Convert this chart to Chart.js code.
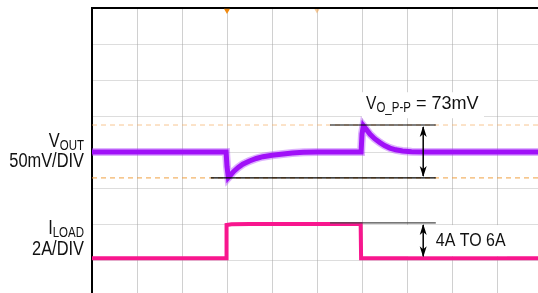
<!DOCTYPE html>
<html>
<head>
<meta charset="utf-8">
<script src="https://cdn.jsdelivr.net/npm/chart.js@4.4.1/dist/chart.umd.min.js"></script>
<style>
  html, body { margin: 0; padding: 0; background: #fff; overflow: hidden; }
  canvas { display: block; }
</style>
</head>
<body>
<canvas id="scope" width="546" height="300"></canvas>
<script>
'use strict';

// Scope screen: 10 time divisions x 8 vertical divisions
const timeDivs = [0, 10];
const levelDivs = [0, 8];

// VOUT trace (time in div, level in div)
const voutTime  = [0, 1.0, 2.0, 2.98, 3.0, 3.03, 3.08, 3.15, 3.25, 3.35, 3.5, 3.65, 3.8, 4.0, 4.2, 4.45, 4.7, 5.0, 5.5, 5.98, 6.0, 6.03, 6.1, 6.18, 6.28, 6.4, 6.5, 6.62, 6.75, 6.9, 7.1, 7.4, 8.0, 9.0, 10.0];
const voutLevel = [4.0, 4.0, 4.0, 4.0, 3.6, 3.29, 3.36, 3.46, 3.57, 3.66, 3.75, 3.82, 3.87, 3.91, 3.94, 3.97, 3.99, 4.0, 4.0, 4.0, 4.5, 4.73, 4.62, 4.49, 4.37, 4.26, 4.18, 4.11, 4.06, 4.03, 4.01, 4.0, 4.0, 4.0, 4.0];

// ILOAD trace
const loadTime  = [0, 2.98, 2.99, 3.1, 3.5, 4.5, 5.5, 5.97, 5.98, 6.5, 8.0, 10.0];
const loadLevel = [1.05, 1.05, 1.97, 1.99, 2.0, 2.0, 2.0, 2.0, 1.05, 1.05, 1.05, 1.05];

// cursors and measurement marks
const cursorLevels = [4.75, 3.28];
const peakMark   = { from: 5.29, to: 7.64, level: 4.75 };
const dipMark    = { from: 2.64, to: 7.64, level: 3.28 };
const stepMark   = { from: 5.29, to: 7.64, level: 2.03 };
const arrowTime  = 7.36;
const triggerTimes = [3.0, 5.0];

const purple = '#a010f8';
const pink = '#f8168e';

function pts(xs, ys) {
    return xs.map((x, i) => ({ x: x, y: ys[i] }));
}

function hline(m) {
    return [{ x: m.from, y: m.level }, { x: m.to, y: m.level }];
}

// condensed look: Liberation Sans squeezed horizontally
const labelFont = '"Liberation Sans", Arial, sans-serif';
const squeeze = 0.82;

function textWidth(ctx, text, size, sq) {
    ctx.font = size + 'px ' + labelFont;
    return ctx.measureText(text).width * (sq || squeeze);
}

function putText(ctx, text, x, y, size, sq) {
    ctx.save();
    ctx.font = size + 'px ' + labelFont;
    ctx.textAlign = 'left';
    ctx.translate(x, y);
    ctx.scale(sq || squeeze, 1);
    ctx.fillText(text, 0, 0);
    ctx.restore();
    return x + textWidth(ctx, text, size, sq);
}

function drawSubText(ctx, x, y, main, sub, size, align) {
    const small = Math.round(size * 0.72);
    const w = textWidth(ctx, main, size) + textWidth(ctx, sub, small);
    const start = align === 'right' ? x - w : x;
    const mid = putText(ctx, main, start, y, size);
    return putText(ctx, sub, mid, y + 3, small);
}

// white label boxes, texts and arrows (drawn after the grid, which sits over the traces)
const scopeMarks = {
    id: 'scopeMarks',
    afterDraw(chart) {
        const ctx = chart.ctx;
        const xs = chart.scales.x;
        const ys = chart.scales.y;
        ctx.save();
        ctx.fillStyle = '#fff';
        ctx.fillRect(xs.getPixelForValue(6.0), ys.getPixelForValue(5.66), 122, 26);
        ctx.fillRect(xs.getPixelForValue(7.0), ys.getPixelForValue(1.97), 100, 31);

        ctx.fillStyle = '#111';
        ctx.textBaseline = 'alphabetic';
        const end = drawSubText(ctx, xs.getPixelForValue(6.09), ys.getPixelForValue(5.2), 'V', 'O_P-P', 19, 'left');
        putText(ctx, ' = 73mV', end, ys.getPixelForValue(5.2), 19, 0.95);
        putText(ctx, '4A TO 6A', xs.getPixelForValue(7.64), ys.getPixelForValue(1.39), 19, 0.84);

        // channel labels left of the screen
        const lx = chart.chartArea.left - 8;
        drawSubText(ctx, lx, ys.getPixelForValue(4.13), 'V', 'OUT', 20, 'right');
        putText(ctx, '50mV/DIV', lx - textWidth(ctx, '50mV/DIV', 20), ys.getPixelForValue(3.57), 20);
        drawSubText(ctx, lx, ys.getPixelForValue(1.71), 'I', 'LOAD', 20, 'right');
        putText(ctx, '2A/DIV', lx - textWidth(ctx, '2A/DIV', 20), ys.getPixelForValue(1.15), 20);

        // double arrows
        const ax = xs.getPixelForValue(arrowTime);
        ctx.strokeStyle = '#000';
        ctx.fillStyle = '#000';
        ctx.lineWidth = 1.5;
        const arrow = (y1, y2) => {
            ctx.beginPath();
            ctx.moveTo(ax, y1 + 2);
            ctx.lineTo(ax, y2 - 2);
            ctx.stroke();
            [[y1, 1], [y2, -1]].forEach(([y, d]) => {
                ctx.beginPath();
                ctx.moveTo(ax, y + d);
                ctx.lineTo(ax - 3.5, y + d * 12);
                ctx.lineTo(ax, y + d * 9);
                ctx.lineTo(ax + 3.5, y + d * 12);
                ctx.closePath();
                ctx.fill();
            });
        };
        arrow(ys.getPixelForValue(peakMark.level), ys.getPixelForValue(dipMark.level));
        arrow(ys.getPixelForValue(stepMark.level), ys.getPixelForValue(loadLevel[0]));
        ctx.restore();
    }
};

const ctx = document.getElementById('scope').getContext('2d');
new Chart(ctx, {
    type: 'scatter',
    data: {
        datasets: [
            {
                data: hline(peakMark), showLine: true, borderColor: '#000', borderWidth: 1.2,
                pointRadius: 0, order: 1
            },
            {
                data: hline(dipMark), showLine: true, borderColor: '#000', borderWidth: 1.2,
                pointRadius: 0, order: 1
            },
            {
                data: hline(stepMark), showLine: true, borderColor: '#4a4a4a', borderWidth: 1.2,
                pointRadius: 0, order: 1
            },
            {
                data: pts(voutTime, voutLevel), showLine: true, borderColor: purple, borderWidth: 5,
                pointRadius: 0, order: 3
            },
            {
                data: pts(voutTime, voutLevel), showLine: true, borderColor: 'rgba(170,60,250,0.4)', borderWidth: 8,
                pointRadius: 0, order: 4
            },
            {
                data: pts(loadTime, loadLevel), showLine: true, borderColor: pink, borderWidth: 4,
                pointRadius: 0, order: 2
            },
            {
                data: [{ x: timeDivs[0], y: cursorLevels[0] }, { x: timeDivs[1], y: cursorLevels[0] }],
                showLine: true, borderColor: 'rgba(245,175,100,0.7)', borderWidth: 1, borderDash: [5, 4],
                pointRadius: 0, order: 6
            },
            {
                data: [{ x: timeDivs[0], y: cursorLevels[1] }, { x: timeDivs[1], y: cursorLevels[1] }],
                showLine: true, borderColor: '#f0a040', borderWidth: 1, borderDash: [5, 4],
                pointRadius: 0, order: 5
            },
            {
                data: triggerTimes.map(t => ({ x: t, y: 7.93 })),
                pointStyle: 'triangle', rotation: 180, pointRadius: [3.5, 3],
                backgroundColor: ['#f08a10', 'rgba(240,170,90,0.6)'], borderWidth: 0,
                clip: false, order: 0
            }
        ]
    },
    options: {
        responsive: false,
        animation: false,
        events: [],
        layout: { padding: { left: 92, top: 8, right: 4, bottom: 4 } },
        plugins: { legend: { display: false }, tooltip: { enabled: false } },
        scales: {
            x: {
                type: 'linear', position: 'top', min: timeDivs[0], max: timeDivs[1], z: 1,
                ticks: { display: false, stepSize: 1 },
                grid: { color: 'rgba(150,150,150,0.45)', lineWidth: 1, drawTicks: false },
                border: { display: true, color: '#000', width: 2 }
            },
            y: {
                type: 'linear', min: levelDivs[0], max: levelDivs[1], z: 1,
                ticks: { display: false, stepSize: 1 },
                grid: { color: 'rgba(170,170,170,0.4)', lineWidth: 1, drawTicks: false },
                border: { display: true, color: '#000', width: 2 }
            }
        }
    },
    plugins: [scopeMarks]
});
</script>
</body>
</html>
